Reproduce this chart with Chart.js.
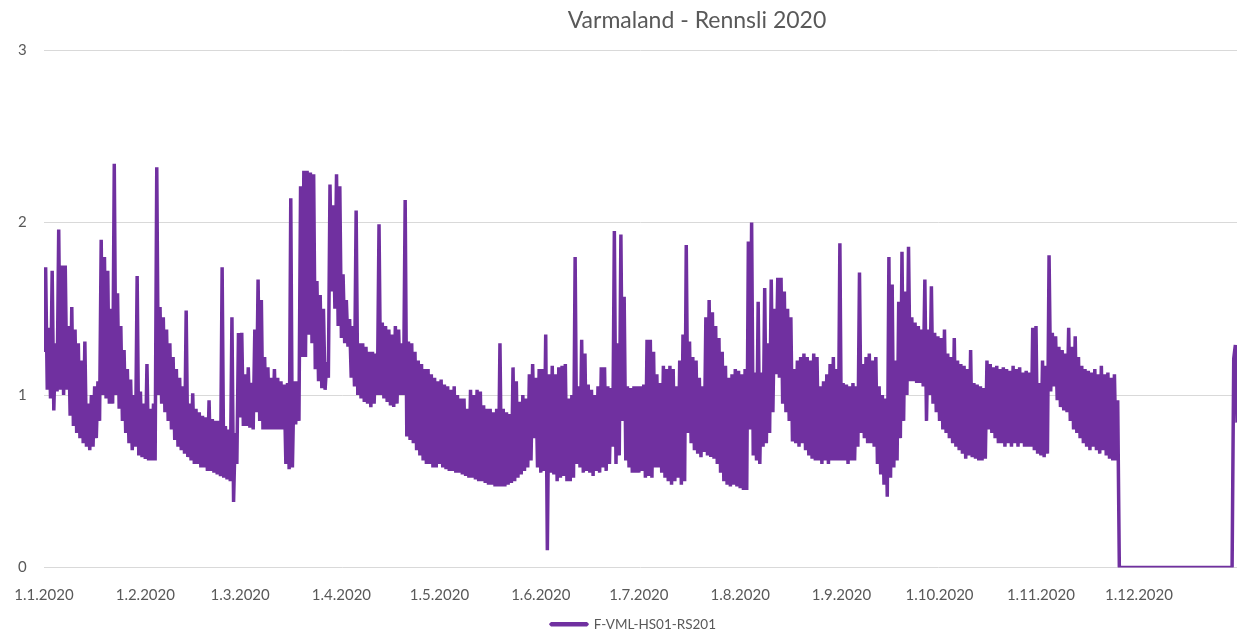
<!DOCTYPE html>
<html>
<head>
<meta charset="utf-8">
<title>Varmaland - Rennsli 2020</title>
<script src="https://cdn.jsdelivr.net/npm/chart.js@4/dist/chart.umd.min.js"></script>
<style>
  html, body { margin: 0; padding: 0; background: #fff; }
</style>
</head>
<body>
<canvas id="chart" width="1239" height="631"></canvas>
<script>
const chartTitle = 'Varmaland - Rennsli 2020'
const seriesName = 'F-VML-HS01-RS201'

// day of year (0 = 1.1.2020) where each month starts
const monthStarts = [0, 31, 60, 91, 121, 152, 182, 213, 244, 274, 305, 335]
const monthLabels = ['1.1.2020', '1.2.2020', '1.3.2020', '1.4.2020', '1.5.2020', '1.6.2020',
  '1.7.2020', '1.8.2020', '1.9.2020', '1.10.2020', '1.11.2020', '1.12.2020']
const yTicks = [0, 1, 2, 3]

// daily peak of the flow, one line per month
const dailyHigh = [
  1.74,1.39,1.72,1.30,1.96,1.75,1.75,1.40,1.51,1.38,1.30,1.20,1.31,0.95,1.00,1.05,1.08,1.90,1.80,1.72,1.50,2.34,1.59,1.40,1.26,1.15,1.09,1.00,1.69,1.02,0.95,
  1.18,0.92,0.95,2.32,1.51,1.45,1.38,1.30,1.22,1.15,1.10,1.05,1.49,0.95,1.01,0.92,0.90,0.88,0.87,0.97,0.86,0.85,0.85,1.74,0.82,0.80,1.45,0.78,1.36,
  1.36,1.12,1.16,1.07,1.38,1.67,1.55,1.22,1.16,1.10,1.15,1.10,1.08,1.06,1.07,2.14,1.08,1.08,2.21,2.30,2.30,2.29,2.28,1.66,1.58,1.50,1.19,2.22,2.10,2.28,2.21,
  1.70,1.55,1.44,1.40,2.07,1.30,1.30,1.28,1.25,1.25,1.24,1.99,1.42,1.40,1.38,1.35,1.40,1.38,1.30,2.13,1.31,1.30,1.25,1.20,1.18,1.15,1.15,1.12,1.10,1.08,
  1.09,1.06,1.05,1.03,1.05,1.00,0.98,0.98,0.92,1.03,1.00,1.03,1.02,0.94,0.92,0.92,0.90,0.92,1.30,0.92,0.90,0.89,1.16,1.08,0.96,1.00,0.98,1.12,1.18,1.10,1.15,
  1.15,1.35,1.12,1.17,1.12,1.16,1.17,1.18,0.98,1.00,1.80,1.05,1.32,1.24,1.06,1.03,1.00,1.05,1.16,1.16,1.05,1.04,1.95,1.30,1.93,1.57,1.05,1.04,1.05,1.05,
  1.05,1.06,1.32,1.32,1.25,1.12,1.07,1.17,1.15,1.17,1.15,1.05,1.20,1.35,1.87,1.31,1.22,1.20,1.10,1.05,1.45,1.55,1.48,1.40,1.33,1.25,1.17,1.10,1.12,1.15,1.14,
  1.12,1.15,1.89,2.00,1.13,1.54,1.13,1.62,1.30,1.67,1.50,1.68,1.68,1.60,1.50,1.45,1.15,1.20,1.22,1.24,1.22,1.20,1.24,1.22,1.05,1.08,1.12,1.18,1.22,1.15,1.88,
  1.07,1.06,1.05,1.07,1.05,1.71,1.18,1.22,1.24,1.20,1.22,1.05,1.00,0.98,1.80,1.64,1.20,1.54,1.83,1.60,1.86,1.45,1.42,1.40,1.38,1.67,1.38,1.63,1.36,1.34,
  1.33,1.38,1.24,1.22,1.33,1.20,1.18,1.17,1.15,1.26,1.07,1.06,1.05,1.04,1.20,1.18,1.16,1.17,1.15,1.16,1.15,1.14,1.17,1.15,1.16,1.13,1.14,1.13,1.39,1.40,1.07,
  1.20,1.17,1.81,1.36,1.34,1.28,1.26,1.24,1.39,1.28,1.34,1.22,1.17,1.15,1.14,1.13,1.15,1.12,1.17,1.12,1.13,1.10,1.12,0.97,0,0,0,0,0,0,
  0,0,0,0,0,0,0,0,0,0,0,0,0,0,0,0,0,0,0,0,0,0,0,0,0,0,0,0,0,1.29,1.25
]

// daily minimum of the flow, one line per month
const dailyLow = [
  1.25,1.03,0.98,0.91,1.02,1.03,1.00,1.03,0.88,0.82,0.78,0.75,0.72,0.70,0.68,0.70,0.75,0.85,1.00,0.98,0.95,0.95,1.00,0.92,0.85,0.78,0.72,0.68,0.70,0.65,0.64,
  0.63,0.62,0.62,0.62,1.00,0.95,0.90,0.85,0.80,0.74,0.70,0.68,0.66,0.64,0.62,0.60,0.60,0.58,0.58,0.56,0.56,0.55,0.54,0.53,0.52,0.51,0.50,0.38,0.60,
  0.87,0.82,0.82,0.81,0.80,0.90,0.85,0.80,0.80,0.80,0.80,0.80,0.80,0.80,0.60,0.57,0.58,0.83,0.85,1.22,1.22,1.35,1.30,1.15,1.08,1.04,1.03,1.10,1.60,1.50,1.40,
  1.33,1.30,1.28,1.10,1.05,1.00,0.98,0.96,0.95,0.93,0.95,1.00,1.00,0.98,0.96,0.94,0.93,0.95,1.00,1.00,0.76,0.74,0.72,0.68,0.65,0.62,0.60,0.60,0.58,0.58,
  0.60,0.58,0.57,0.56,0.56,0.55,0.55,0.54,0.53,0.52,0.52,0.51,0.50,0.50,0.49,0.48,0.48,0.47,0.47,0.47,0.47,0.48,0.49,0.50,0.52,0.54,0.56,0.58,0.62,0.75,0.58,
  0.55,0.56,0.10,0.55,0.54,0.50,0.52,0.53,0.50,0.50,0.52,0.60,0.58,0.55,0.56,0.55,0.53,0.56,0.55,0.58,0.56,0.60,0.70,0.60,0.65,0.85,0.62,0.58,0.55,0.55,
  0.55,0.56,0.52,0.53,0.52,0.58,0.58,0.55,0.52,0.50,0.48,0.50,0.52,0.48,0.50,0.78,0.72,0.68,0.66,0.64,0.67,0.65,0.64,0.63,0.60,0.55,0.50,0.48,0.47,0.48,0.47,
  0.46,0.45,0.45,0.80,0.65,0.62,0.60,0.70,0.72,0.78,0.90,1.12,1.10,0.95,0.90,0.85,0.73,0.72,0.70,0.72,0.68,0.65,0.63,0.62,0.62,0.60,0.62,0.60,0.62,0.62,0.62,
  0.62,0.62,0.60,0.62,0.62,0.70,0.78,0.75,0.72,0.72,0.70,0.60,0.54,0.48,0.41,0.52,0.58,0.62,0.75,0.85,1.00,1.08,1.08,1.07,1.07,1.05,0.85,1.00,0.95,0.90,
  0.85,0.80,0.78,0.75,0.72,0.70,0.68,0.66,0.63,0.65,0.64,0.63,0.62,0.62,0.63,0.80,0.78,0.75,0.72,0.72,0.70,0.72,0.70,0.72,0.70,0.72,0.70,0.70,0.70,0.68,0.66,
  0.65,0.64,0.66,1.02,1.05,0.97,0.93,0.91,0.90,0.85,0.80,0.78,0.75,0.72,0.70,0.68,0.70,0.68,0.66,0.68,0.65,0.63,0.62,0.62,0,0,0,0,0,0,
  0,0,0,0,0,0,0,0,0,0,0,0,0,0,0,0,0,0,0,0,0,0,0,0,0,0,0,0,0,1.21,0.84
]

const textColor = '#595959'
const gridColor = '#D9D9D9'
const lineColor = '#7030A0'

// the title sits a bit right of centre, like in the excel export
const titlePlugin = {
  id: 'excelTitle',
  afterDraw(chart) {
    const ctx = chart.ctx
    ctx.save()
    ctx.font = '23px Lato'
    ctx.fillStyle = textColor
    ctx.textAlign = 'center'
    ctx.textBaseline = 'alphabetic'
    ctx.fillText(chartTitle, 697, 28)
    ctx.restore()
  }
}

function draw() {
  // low at the start of each day, peak half a day later
  let points = []
  dailyLow.forEach((low, day) => {
    points.push({ x: day, y: low })
    points.push({ x: day + 0.5, y: dailyHigh[day] })
  })

  Chart.defaults.font.family = 'Lato'

  new Chart(document.getElementById('chart'), {
    type: 'line',
    data: {
      datasets: [{
        label: seriesName,
        data: points,
        borderColor: lineColor,
        backgroundColor: lineColor,
        borderWidth: 3.5,
        borderJoinStyle: 'bevel',
        pointRadius: 0,
        tension: 0,
        fill: false
      }]
    },
    options: {
      responsive: false,
      animation: false,
      devicePixelRatio: 1,
      layout: { padding: { left: 30, right: 2, top: 50, bottom: -10 } },
      scales: {
        x: {
          type: 'linear',
          min: 0,
          max: 365,
          grid: { display: false },
          border: { display: false },
          afterBuildTicks: (scale) => { scale.ticks = monthStarts.map(v => ({ value: v })) },
          afterFit: (scale) => { scale.height = 40 },
          ticks: {
            autoSkip: false,
            maxRotation: 0,
            padding: 11,
            color: textColor,
            font: { size: 15 },
            callback: (value, i) => monthLabels[i]
          }
        },
        y: {
          min: 0,
          max: 3,
          afterBuildTicks: (scale) => { scale.ticks = yTicks.map(v => ({ value: v })) },
          afterFit: (scale) => { scale.width = 14 },
          grid: { color: gridColor, drawTicks: false },
          border: { display: false },
          // mirrored labels are not clipped to the narrow axis box
          ticks: { mirror: true, crossAlign: 'far', padding: -26, color: textColor, font: { size: 15 } }
        }
      },
      plugins: {
        title: { display: false },
        tooltip: { enabled: false },
        legend: {
          position: 'bottom',
          labels: {
            boxWidth: 36,
            boxHeight: 1,
            padding: 10,
            color: textColor,
            font: { size: 13.5 }
          }
        }
      }
    },
    plugins: [titlePlugin]
  })
}

document.fonts.load('15px Lato').then(draw, draw)
</script>
</body>
</html>
